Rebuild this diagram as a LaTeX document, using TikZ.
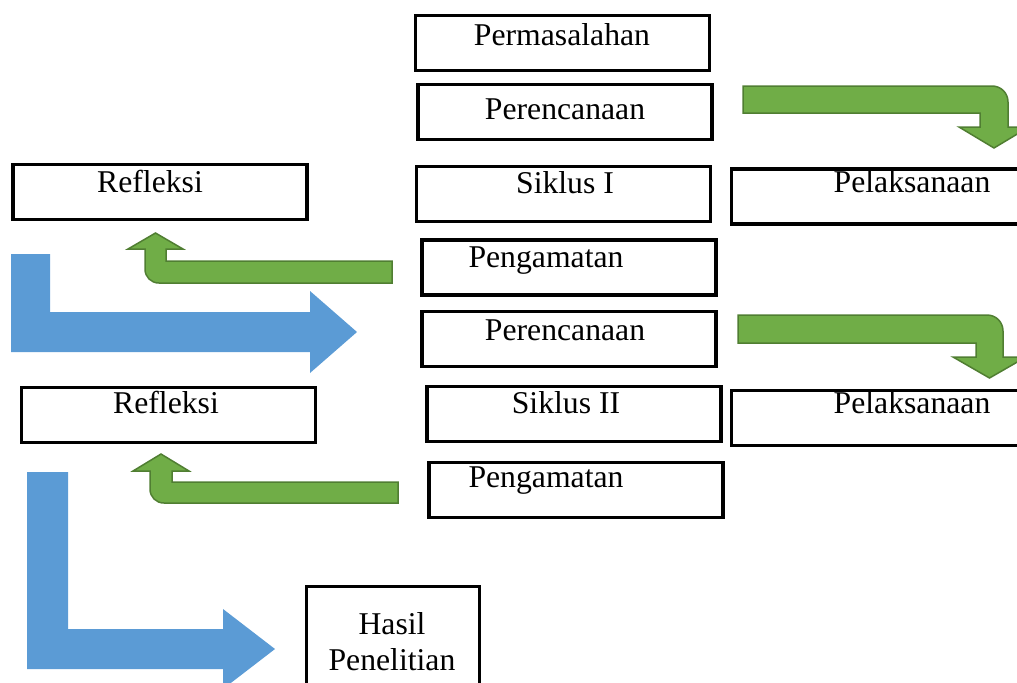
\documentclass[tikz,border=0pt]{standalone}
\usepackage{fontspec}
\setmainfont{Liberation Serif}
\usepackage{xcolor}
\usepackage{tikz}
\usetikzlibrary{calc}
\definecolor{hijau}{HTML}{70AD47}
\definecolor{hijautua}{HTML}{507E32}
\definecolor{biru}{HTML}{5B9BD5}

\begin{document}
\begin{tikzpicture}[
x=0.5pt,y=-0.5pt,
kotak/.style={rectangle, draw, line width=1.7pt, minimum width=147pt, minimum height=27.5pt, inner sep=0pt},
kotakhasil/.style={rectangle, draw, line width=1.7pt, minimum width=86.5pt, minimum height=60pt, inner sep=0pt, anchor=north},
teks/.style={anchor=base, inner sep=0pt, font=\fontsize{15.85}{18}\selectfont},
panahhijau/.style={fill=hijau, draw=hijautua, line width=0.75pt},
panahbiru/.style={fill=biru},
]
\useasboundingbox (0,0) rectangle (1017,682);
\clip (0,0) rectangle (1017,682);

%kotak siklus I
\node(masalah)[kotak]   at (562.5,43){};
\node(rencana1)[kotak]  at (565,112){};
\node(siklus1)[kotak]   at (563.5,194){};
\node(laksana1)[kotak]  at (878.5,196.5){};
\node(refleksi1)[kotak] at (160,192){};
\node(amat1)[kotak]     at (569,267.5){};

%kotak siklus II
\node(rencana2)[kotak]  at (569,339){};
\node(siklus2)[kotak]   at (574,414){};
\node(laksana2)[kotak]  at (878.5,418){};
\node(refleksi2)[kotak] at (168.5,415){};
\node(amat2)[kotak]     at (576,490){};
\node(hasil)[kotakhasil] at (393,584.5){};

%teks
\node(tmasalah)[teks]   at (562,45){Permasalahan};
\node(trencana1)[teks]  at (565,119){Perencanaan};
\node(tsiklus1)[teks]   at (565,193){Siklus I};
\node(tlaksana1)[teks]  at (912,192){Pelaksanaan};
\node(trefleksi1)[teks] at (150,192){Refleksi};
\node(tamat1)[teks]     at (546,267){Pengamatan};
\node(trencana2)[teks]  at (565,340){Perencanaan};
\node(tsiklus2)[teks]   at (566,413){Siklus II};
\node(tlaksana2)[teks]  at (912,413){Pelaksanaan};
\node(trefleksi2)[teks] at (166,413){Refleksi};
\node(tamat2)[teks]     at (546,487){Pengamatan};
\node(thasil)[teks, anchor=north, align=center] at (392,612){Hasil \\ Penelitian};

%panah hijau ke kanan bawah
\draw[panahhijau] (743,86) -- (992,86) .. controls (1001,86) and (1008,93) .. (1008,102) -- (1008,127) -- (1029,127) -- (994,148) -- (959,127) -- (980,127) -- (980,113) -- (743,113) -- cycle;
\draw[panahhijau] (738,315) -- (987,315) .. controls (996,315) and (1003,322) .. (1003,331) -- (1003,357) -- (1026,357) -- (989.5,378) -- (953,357) -- (976,357) -- (976,343) -- (738,343) -- cycle;

%panah hijau ke kiri atas
\draw[panahhijau] (392,261) -- (166,261) -- (166,249) -- (183,249) -- (155.5,233) -- (128,249) -- (145,249) -- (145,269) .. controls (145,277) and (151,283) .. (159,283) -- (392,283) -- cycle;
\draw[panahhijau] (398,482) -- (172,482) -- (172,471) -- (189,471) -- (161,454) -- (133,471) -- (150,471) -- (150,489) .. controls (150,497) and (156,503) .. (164,503) -- (398,503) -- cycle;

%panah biru
\fill[panahbiru] (11,254) -- (50,254) -- (50,312) -- (310,312) -- (310,291) -- (357,332) -- (310,373) -- (310,352) -- (11,352) -- cycle;
\fill[panahbiru] (27,472) -- (68,472) -- (68,629) -- (223,629) -- (223,609) -- (275,649) -- (223,689) -- (223,669) -- (27,669) -- cycle;

\end{tikzpicture}
\end{document}
